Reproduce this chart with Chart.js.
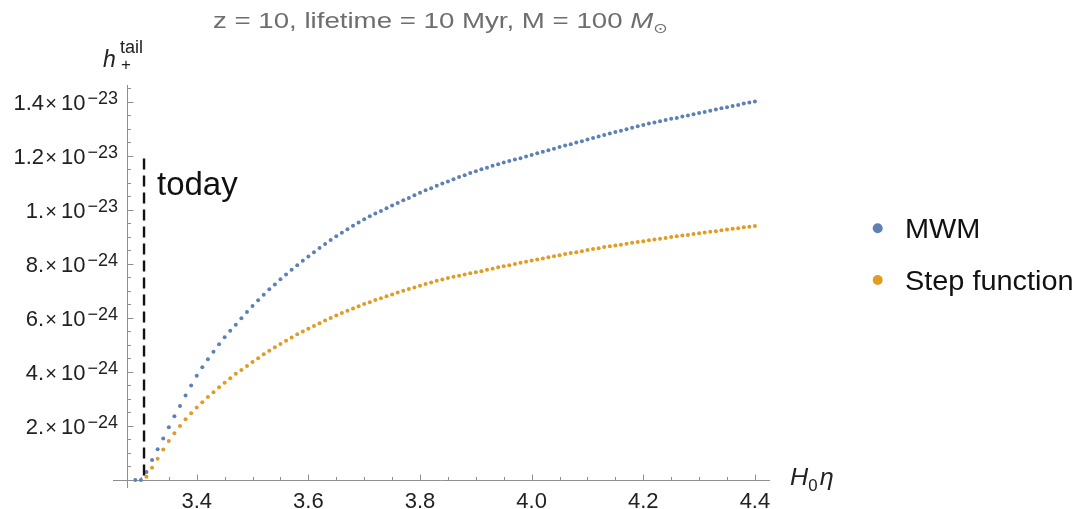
<!DOCTYPE html>
<html>
<head>
<meta charset="utf-8">
<script src="https://cdn.jsdelivr.net/npm/chart.js@4.4.1/dist/chart.umd.min.js"></script>
<style>
html,body{margin:0;padding:0;background:#fff;}
#wrap{width:1083px;height:509px;}
</style>
</head>
<body>
<div id="wrap"><canvas id="c" width="1083" height="509"></canvas></div>
<script>
// ---- data (values of h_+^tail in units of 1e-24) ----
const xs = [3.29,3.30,
 3.31,3.32,3.33,3.34,3.35,3.36,3.37,3.38,3.39,3.40,
 3.41,3.42,3.43,3.44,3.45,3.46,3.47,3.48,3.49,3.50,
 3.51,3.52,3.53,3.54,3.55,3.56,3.57,3.58,3.59,3.60,
 3.61,3.62,3.63,3.64,3.65,3.66,3.67,3.68,3.69,3.70,
 3.71,3.72,3.73,3.74,3.75,3.76,3.77,3.78,3.79,3.80,
 3.81,3.82,3.83,3.84,3.85,3.86,3.87,3.88,3.89,3.90,
 3.91,3.92,3.93,3.94,3.95,3.96,3.97,3.98,3.99,4.00,
 4.01,4.02,4.03,4.04,4.05,4.06,4.07,4.08,4.09,4.10,
 4.11,4.12,4.13,4.14,4.15,4.16,4.17,4.18,4.19,4.20,
 4.21,4.22,4.23,4.24,4.25,4.26,4.27,4.28,4.29,4.30,
 4.31,4.32,4.33,4.34,4.35,4.36,4.37,4.38,4.39,4.40];

const mwm = [0,0,
 0.30,0.74,1.14,1.54,1.95,2.36,2.74,3.13,3.50,3.86,
 4.17,4.47,4.75,5.02,5.28,5.52,5.75,5.99,6.22,6.44,
 6.65,6.86,7.06,7.24,7.43,7.61,7.78,7.95,8.11,8.27,
 8.43,8.59,8.73,8.88,9.02,9.15,9.28,9.41,9.53,9.65,
 9.76,9.86,9.96,10.06,10.16,10.25,10.35,10.44,10.54,10.63,
 10.72,10.80,10.89,10.97,11.05,11.13,11.21,11.28,11.36,11.43,
 11.50,11.56,11.63,11.69,11.75,11.81,11.86,11.91,11.97,12.03,
 12.09,12.15,12.20,12.26,12.32,12.38,12.43,12.49,12.54,12.60,
 12.66,12.71,12.77,12.82,12.88,12.93,12.98,13.04,13.09,13.14,
 13.19,13.23,13.28,13.32,13.37,13.40,13.45,13.49,13.54,13.58,
 13.62,13.67,13.71,13.76,13.80,13.84,13.88,13.93,13.97,14.01];

const stepFn = [null,null,
 0.12,0.45,0.79,1.13,1.44,1.73,2.00,2.25,2.47,2.68,
 2.88,3.07,3.25,3.43,3.60,3.77,3.93,4.07,4.22,4.37,
 4.51,4.65,4.78,4.91,5.03,5.15,5.27,5.39,5.50,5.60,
 5.70,5.80,5.90,6.00,6.09,6.18,6.26,6.35,6.43,6.51,
 6.58,6.66,6.73,6.80,6.87,6.94,7.00,7.07,7.12,7.19,
 7.25,7.31,7.37,7.42,7.48,7.52,7.56,7.61,7.65,7.69,
 7.73,7.78,7.82,7.87,7.91,7.95,7.99,8.04,8.08,8.12,
 8.16,8.20,8.24,8.28,8.32,8.36,8.40,8.43,8.47,8.51,
 8.55,8.58,8.62,8.65,8.68,8.71,8.74,8.78,8.81,8.84,
 8.87,8.90,8.93,8.96,8.99,9.02,9.05,9.07,9.10,9.13,
 9.16,9.19,9.21,9.24,9.27,9.30,9.32,9.35,9.37,9.40];

const seriesNames = ['MWM', 'Step function'];
const todayX = [3.3056, 3.3056];
const todayY = [11.9, 0];
const todayText = 'today';

const xTickValues = [3.4, 3.6, 3.8, 4.0, 4.2, 4.4];
const xTickLabels = ['3.4', '3.6', '3.8', '4.0', '4.2', '4.4'];
const xMinorTicks = [3.30,3.35,3.45,3.50,3.55,3.65,3.70,3.75,3.85,3.90,3.95,4.05,4.10,4.15,4.25,4.30,4.35];
const yTickValues = [2, 4, 6, 8, 10, 12, 14];
const yTickMantissas = ['2.', '4.', '6.', '8.', '1.', '1.2', '1.4'];
const yTickExponents = ['\u221224', '\u221224', '\u221224', '\u221224', '\u221223', '\u221223', '\u221223'];
const yMinorTicks = [0.5,1,1.5,2.5,3,3.5,4.5,5,5.5,6.5,7,7.5,8.5,9,9.5,10.5,11,11.5,12.5,13,13.5,14.5];
const yAxisAtX = 3.2747;

const titleParts = ['z = 10, lifetime = 10 Myr, M = 100 ', 'M', '\u2299'];

// ---- styling ----
const BLUE = '#5E81B5';
const ORANGE = '#E19C24';
const AXIS = '#8f8f8f';
const FONT = '"Liberation Sans", "DejaVu Sans", Arial, sans-serif';

function drawRuns(ctx, parts, x, baseline, align, sx) {
  ctx.save();
  let widths = [], total = 0;
  for (const p of parts) {
    ctx.font = p.font;
    const w = ctx.measureText(p.t).width;
    widths.push(w);
    total += w + (p.gap || 0);
  }
  if (sx === 'fit') sx = parts.fitWidth / total;
  sx = sx || 1;
  let start = x;
  if (align === 'center') start = x - total * sx / 2;
  else if (align === 'right') start = x - total * sx;
  ctx.translate(start, baseline);
  ctx.scale(sx, 1);
  ctx.textAlign = 'left';
  ctx.textBaseline = 'alphabetic';
  let cx = 0;
  parts.forEach((p, i) => {
    ctx.font = p.font;
    ctx.fillStyle = p.color || '#222';
    ctx.fillText(p.t, cx, p.dy || 0);
    cx += widths[i] + (p.gap || 0);
  });
  ctx.restore();
}

const decor = {
  id: 'decor',
  beforeDatasetsDraw(chart) {
    const {ctx, scales: {x, y}, chartArea: a} = chart;
    ctx.save();
    ctx.strokeStyle = AXIS;
    ctx.lineWidth = 1;
    const y0 = Math.round(y.getPixelForValue(0)) + 0.5;
    const xA = Math.round(x.getPixelForValue(yAxisAtX)) + 0.5;
    ctx.beginPath();
    ctx.moveTo(a.left, y0); ctx.lineTo(a.right, y0);
    ctx.moveTo(xA, a.top); ctx.lineTo(xA, a.bottom);
    for (const v of xTickValues) { const p = Math.round(x.getPixelForValue(v)) + 0.5; ctx.moveTo(p, y0); ctx.lineTo(p, y0 - 6); }
    for (const v of xMinorTicks) { const p = Math.round(x.getPixelForValue(v)) + 0.5; ctx.moveTo(p, y0); ctx.lineTo(p, y0 - 3.5); }
    for (const v of yTickValues) { const p = Math.round(y.getPixelForValue(v)) + 0.5; ctx.moveTo(xA, p); ctx.lineTo(xA + 6, p); }
    for (const v of yMinorTicks) { const p = Math.round(y.getPixelForValue(v)) + 0.5; ctx.moveTo(xA, p); ctx.lineTo(xA + 3.5, p); }
    ctx.stroke();
    ctx.restore();
  },
  afterDraw(chart) {
    const {ctx, scales: {x, y}} = chart;
    const y0 = y.getPixelForValue(0);
    // x tick labels
    ctx.save();
    ctx.fillStyle = '#222';
    ctx.font = '22px ' + FONT;
    ctx.textAlign = 'center';
    ctx.textBaseline = 'alphabetic';
    xTickValues.forEach((v, i) => ctx.fillText(xTickLabels[i], x.getPixelForValue(v), y0 + 28));
    // y tick labels
    yTickValues.forEach((v, i) => {
      const p = y.getPixelForValue(v);
      ctx.font = '22px ' + FONT;
      ctx.textAlign = 'right';
      ctx.fillText(yTickMantissas[i], 44, p + 8.5);
      ctx.textAlign = 'center';
      ctx.font = '20px ' + FONT;
      ctx.fillText('\u00D7', 51, p + 8);
      ctx.textAlign = 'left';
      ctx.font = '22px ' + FONT;
      ctx.fillText('10', 61, p + 8.5);
      ctx.font = '18px ' + FONT;
      ctx.fillText(yTickExponents[i], 87.5, p + 2);
    });
    ctx.restore();

    // title
    const tp = [
      {t: titleParts[0], font: '22px ' + FONT, color: '#6e6e6e'},
      {t: titleParts[1], font: 'italic 22px ' + FONT, color: '#6e6e6e'},
      {t: titleParts[2], font: '14px "DejaVu Sans", sans-serif', color: '#6e6e6e', dy: 5}
    ];
    tp.fitWidth = 455;
    drawRuns(ctx, tp, 440.5, 28, 'center', 'fit');

    // y axis label h_+^tail
    drawRuns(ctx, [{t: 'h', font: 'italic 23px ' + FONT, color: '#222'}], 103, 67, 'left', 1);
    drawRuns(ctx, [{t: 'tail', font: '18px ' + FONT, color: '#222'}], 120, 53, 'left', 1);
    drawRuns(ctx, [{t: '+', font: '17px ' + FONT, color: '#222'}], 121, 70, 'left', 1);

    // x axis label H_0 eta
    drawRuns(ctx, [
      {t: 'H', font: 'italic 24px ' + FONT, color: '#222'},
      {t: '0', font: '16px ' + FONT, color: '#222', dy: 6, gap: 2},
      {t: '\u03B7', font: 'italic 24px ' + FONT, color: '#222'}
    ], 790, 485, 'left', 1.05);

    // today
    drawRuns(ctx, [{t: todayText, font: '33px ' + FONT, color: '#111'}], 157, 195, 'left', 1);

    // legend
    const colors = [BLUE, ORANGE];
    const ly = [228.3, 280];
    seriesNames.forEach((n, i) => {
      ctx.save();
      ctx.fillStyle = colors[i];
      ctx.beginPath();
      ctx.arc(877.7, ly[i], 5, 0, Math.PI * 2);
      ctx.fill();
      ctx.restore();
      drawRuns(ctx, [{t: n, font: '27px ' + FONT, color: '#111'}], 905, ly[i] + 9.5, 'left', 1.07);
    });
  }
};

const mkPts = (arr) => xs.map((v, i) => ({x: v, y: arr[i]})).filter(p => p.y !== null);

new Chart(document.getElementById('c'), {
  type: 'scatter',
  data: {
    datasets: [
      {
        type: 'line',
        label: todayText,
        data: todayX.map((v, i) => ({x: v, y: todayY[i]})),
        borderColor: '#111',
        borderWidth: 2.4,
        borderDash: [11, 6],
        pointRadius: 0,
        fill: false
      },
      {
        label: seriesNames[0],
        data: mkPts(mwm),
        backgroundColor: BLUE,
        borderWidth: 0,
        pointRadius: 2
      },
      {
        label: seriesNames[1],
        data: mkPts(stepFn),
        backgroundColor: ORANGE,
        borderWidth: 0,
        pointRadius: 2
      }
    ]
  },
  options: {
    responsive: false,
    animation: false,
    devicePixelRatio: 1,
    layout: {padding: {left: 113, right: 313, top: 85, bottom: 21}},
    plugins: {
      legend: {display: false},
      title: {display: false},
      tooltip: {enabled: false}
    },
    scales: {
      x: {type: 'linear', min: 3.25, max: 4.427, display: false},
      y: {type: 'linear', min: -0.296, max: 14.619, display: false}
    }
  },
  plugins: [decor]
});
</script>
</body>
</html>
